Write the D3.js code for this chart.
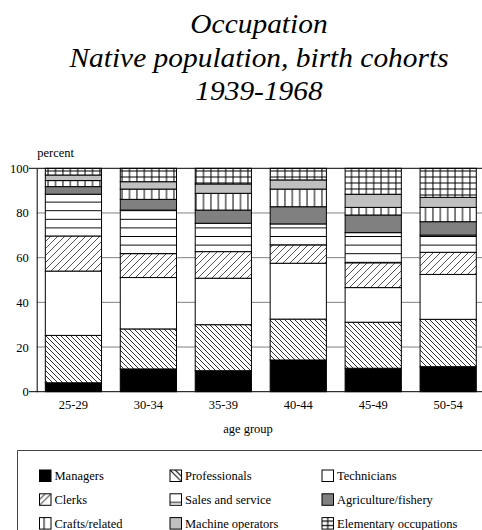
<!doctype html>
<html lang="en">
<head>
<meta charset="UTF-8">
<title>Occupation</title>
<script src="https://cdn.jsdelivr.net/npm/d3@7"></script>
<style>
	body { margin: 0; background: #fff; }
	svg { display: block; font-family: "Liberation Serif", "Times New Roman", serif; }
</style>
</head>
<body>
<div id="container"></div>
<script>
	var width = 482, height = 530;

	// data (percent)
	var groups = ["25-29", "30-34", "35-39", "40-44", "45-49", "50-54"];
	var categories = ["Managers", "Professionals", "Technicians", "Clerks", "Sales and service",
		"Agriculture/fishery", "Crafts/related", "Machine operators", "Elementary occupations"];
	var managers      = [4.0, 10.2, 9.4, 14.2, 10.5, 11.2];
	var professionals = [21.2, 17.9, 20.6, 18.3, 20.6, 21.2];
	var technicians   = [28.8, 23.0, 20.8, 25.0, 15.5, 20.1];
	var clerks        = [15.7, 10.7, 11.9, 8.2, 11.1, 9.9];
	var sales         = [18.7, 19.5, 12.7, 9.4, 13.5, 7.7];
	var agriculture   = [3.4, 4.8, 5.9, 7.7, 7.9, 6.0];
	var crafts        = [2.7, 4.6, 7.5, 7.9, 3.4, 6.4];
	var machine       = [2.5, 3.3, 4.2, 4.1, 5.9, 4.5];
	var elementary    = [3.0, 6.0, 7.0, 5.2, 11.6, 13.0];
	var yTicks = [0, 20, 40, 60, 80, 100];

	var series = [managers, professionals, technicians, clerks, sales, agriculture, crafts, machine, elementary];
	var table = groups.map(function (g, i) {
		var row = { group: g };
		categories.forEach(function (c, k) { row[c] = series[k][i]; });
		return row;
	});

	var svg = d3.select("#container").append("svg")
		.attr("width", width)
		.attr("height", height);

	var defs = svg.append("defs");

	// pattern helper: size of tile and path
	function pattern(id, w, h, d, color, sw) {
		var p = defs.append("pattern")
			.attr("id", id)
			.attr("patternUnits", "userSpaceOnUse")
			.attr("width", w)
			.attr("height", h);
		p.append("rect").attr("width", w).attr("height", h).attr("fill", "#fff");
		p.append("path").attr("d", d).attr("stroke", color).attr("stroke-width", sw).attr("fill", "none");
	}
	pattern("p-prof", 5, 5, "M0,0L5,5M-1,4L1,6M4,-1L6,1", "#000", 0.8);
	pattern("p-clerk", 7, 7, "M0,7L7,0M-1,1L1,-1M6,8L8,6", "#555", 1);
	pattern("p-sales", 10, 8.6, "M0,4.3H10", "#000", 1);
	pattern("p-craft", 7.4, 10, "M3.7,0V10", "#000", 1);
	pattern("p-elem", 7.4, 6, "M3.7,0V6M0,3H7.4", "#000", 1);

	// legend versions (one line per swatch)
	function lpattern(id, d, color) {
		var p = defs.append("pattern")
			.attr("id", id)
			.attr("patternUnits", "objectBoundingBox")
			.attr("patternContentUnits", "objectBoundingBox")
			.attr("width", 1)
			.attr("height", 1);
		p.append("rect").attr("width", 1).attr("height", 1).attr("fill", "#fff");
		p.append("path").attr("d", d).attr("stroke", color).attr("stroke-width", 0.09).attr("fill", "none");
	}
	lpattern("l-prof", "M0,0L1,1M0.45,0L1,0.55", "#000");
	lpattern("l-clerk", "M0,1L1,0M0,0.5L0.5,0", "#444");
	lpattern("l-sales", "M0,0.75H1", "#000");
	lpattern("l-craft", "M0.4,0V1", "#000");
	lpattern("l-elem", "M0.5,0V1M0,0.3H1M0,0.7H1", "#000");

	var fills = ["#000", "url(#p-prof)", "#fff", "url(#p-clerk)", "url(#p-sales)",
		"#808080", "url(#p-craft)", "#c0c0c0", "url(#p-elem)"];
	var legendFills = ["#000", "url(#l-prof)", "#fff", "url(#l-clerk)", "url(#l-sales)",
		"#808080", "url(#l-craft)", "#c0c0c0", "url(#l-elem)"];

	// title (the original is a little wider than plain Times)
	var title = ["Occupation", "Native population, birth cohorts", "1939-1968"];
	svg.append("g").selectAll("text").data(title).join("text")
		.attr("transform", function (d, i) { return "translate(259," + (33 + i * 33.5) + ") scale(1.09,1)"; })
		.attr("text-anchor", "middle")
		.attr("font-style", "italic")
		.attr("font-size", 27)
		.text(function (d) { return d; });

	// scales
	var x = d3.scaleBand()
		.domain(groups)
		.range([36.7, 484.9])
		.paddingInner(0.25)
		.paddingOuter(0.115);
	var y = d3.scaleLinear()
		.domain([0, 100])
		.range([391.7, 168.3]);

	// gridlines
	svg.append("g").selectAll("line").data([20, 40, 60, 80]).join("line")
		.attr("x1", 36.7).attr("x2", width)
		.attr("y1", function (d) { return y(d); })
		.attr("y2", function (d) { return y(d); })
		.attr("stroke", "#808080");

	// bars
	var stacked = d3.stack().keys(categories)(table);
	svg.append("g").selectAll("g").data(stacked).join("g")
		.attr("fill", function (d, i) { return fills[i]; })
		.selectAll("rect").data(function (d) { return d; }).join("rect")
		.attr("x", function (d) { return x(d.data.group); })
		.attr("width", x.bandwidth())
		.attr("y", function (d) { return y(d[1]); })
		.attr("height", function (d) { return y(d[0]) - y(d[1]); })
		.attr("stroke", "#000")
		.attr("stroke-width", 1);

	// axes
	var yAxis = d3.axisLeft(y).tickValues(yTicks).tickSize(0).tickPadding(8);
	var gy = svg.append("g").attr("transform", "translate(36.7,0)").call(yAxis);
	gy.select(".domain").attr("stroke", "#000");
	gy.selectAll("text").attr("font-size", 12.5).attr("font-family", "Liberation Serif").attr("fill", "#000");

	svg.append("g").selectAll("line").data([0, 100]).join("line")
		.attr("x1", 29).attr("x2", width)
		.attr("y1", function (d) { return y(d); })
		.attr("y2", function (d) { return y(d); })
		.attr("stroke", "#000");

	var xAxis = d3.axisBottom(x).tickSize(0).tickPadding(8);
	var gx = svg.append("g").attr("transform", "translate(0," + y(0) + ")").call(xAxis);
	gx.select(".domain").remove();
	gx.selectAll("text").attr("font-size", 12.5).attr("font-family", "Liberation Serif").attr("fill", "#000");

	svg.append("text").attr("x", 37.3).attr("y", 156.5).attr("font-size", 12.5).text("percent");
	svg.append("text").attr("x", 248).attr("y", 432.5).attr("text-anchor", "middle")
		.attr("font-size", 12.5).text("age group");

	// legend
	var lg = svg.append("g");
	lg.append("path")
		.attr("d", "M17.5," + (height + 2) + "V450.5H" + (width + 2))
		.attr("fill", "none")
		.attr("stroke", "#444");
	var colX = [39.5, 170, 322];
	var items = lg.selectAll("g").data(categories).join("g")
		.attr("transform", function (d, i) {
			return "translate(" + colX[i % 3] + "," + (470 + Math.floor(i / 3) * 23.8) + ")";
		});
	items.append("rect")
		.attr("width", 11.5).attr("height", 11.5)
		.attr("fill", function (d, i) { return legendFills[i]; })
		.attr("stroke", "#000");
	items.append("text")
		.attr("x", 15)
		.attr("y", 10.3)
		.attr("font-size", 12.5)
		.text(function (d) { return d; });
</script>
</body>
</html>
